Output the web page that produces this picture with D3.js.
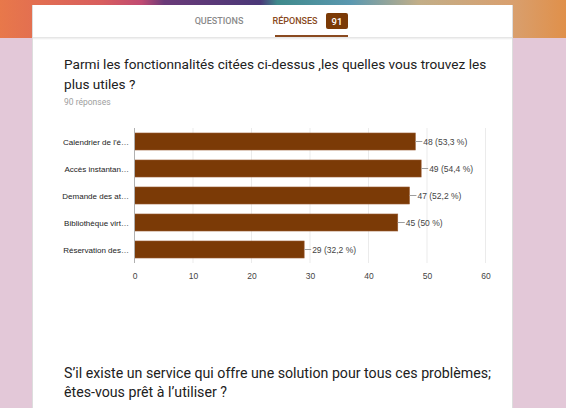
<!DOCTYPE html>
<html><head><meta charset="utf-8">
<script src="https://cdn.jsdelivr.net/npm/d3@7"></script>
<style>
html,body{margin:0;padding:0;overflow:hidden;background:#e3c8d8;}
svg{display:block;font-family:Roboto,"Liberation Sans",Arial,sans-serif;}
</style></head>
<body><svg id="c" width="566" height="408"></svg>
<script>
const categories = ["Calendrier de l'é…", "Accès instantan…", "Demande des at…", "Bibliothèque virt…", "Réservation des…"];
const values = [48, 49, 47, 45, 29];
const percents = ["53,3 %", "54,4 %", "52,2 %", "50 %", "32,2 %"];
const xTicks = [0, 10, 20, 30, 40, 50, 60];
const title1 = ["Parmi les fonctionnalités citées ci-dessus ,les quelles vous trouvez les", "plus utiles ?"];
const subtitle = "90 réponses";
const title2 = ["S’il existe un service qui offre une solution pour tous ces problèmes;", "êtes-vous prêt à l’utiliser ?"];
const tabs = ["QUESTIONS", "RÉPONSES"];
const badge = "91";

const svg = d3.select("#c");
const defs = svg.append("defs");
const g = defs.append("linearGradient").attr("id","top").attr("x1","0").attr("x2","1").attr("y1","0").attr("y2","0");
[[0,"#e8784a"],[0.18,"#d85e5e"],[0.25,"#c04a72"],[0.29,"#6a3a78"],[0.46,"#4a3878"],[0.49,"#3f8a8c"],[0.62,"#5b98b0"],[0.74,"#c2ae88"],[0.9,"#d8a070"],[1,"#e0904a"]]
  .forEach(([o,c])=>g.append("stop").attr("offset",o).attr("stop-color",c));
const sh = defs.append("linearGradient").attr("id","sh").attr("x1","0").attr("x2","0").attr("y1","0").attr("y2","1");
sh.append("stop").attr("offset",0).attr("stop-color","#000").attr("stop-opacity",0.12);
sh.append("stop").attr("offset",1).attr("stop-color","#000").attr("stop-opacity",0);

svg.append("rect").attr("x",0).attr("y",0).attr("width",566).attr("height",408).attr("fill","#e3c8d8");
svg.append("rect").attr("x",0).attr("y",0).attr("width",566).attr("height",38).attr("fill","url(#top)");
// card
svg.append("rect").attr("x",32).attr("y",5).attr("width",481).attr("height",403).attr("fill","#ddd");
svg.append("rect").attr("x",33).attr("y",5).attr("width",479).attr("height",403).attr("fill","#fff");
svg.append("rect").attr("x",33).attr("y",37).attr("width",479).attr("height",3).attr("fill","url(#sh)");

// header tabs
svg.append("text").attr("x",219).attr("y",24).attr("text-anchor","middle").attr("font-size",9).attr("fill","#8a8a8a").attr("font-weight",500).text(tabs[0]);
svg.append("text").attr("x",295).attr("y",24).attr("text-anchor","middle").attr("font-size",9).attr("fill","#8a4a20").attr("font-weight",500).text(tabs[1]);
svg.append("rect").attr("x",326).attr("y",13).attr("width",22).attr("height",16).attr("rx",2).attr("fill","#7b3a06");
svg.append("text").attr("x",337).attr("y",24.5).attr("text-anchor","middle").attr("font-size",9.5).attr("fill","#fff").attr("font-weight",500).text(badge);
svg.append("rect").attr("x",275).attr("y",35).attr("width",73).attr("height",2).attr("fill","#8a4a20");

// titles
svg.selectAll(".t1").data(title1).join("text").attr("x",64).attr("y",(d,i)=>69+i*20)
  .attr("font-size",13.6).attr("fill","#212121").text(d=>d);
svg.append("text").attr("x",64).attr("y",105).attr("font-size",8.5).attr("fill","#9e9e9e").text(subtitle);
svg.selectAll(".t2").data(title2).join("text").attr("x",64).attr("y",(d,i)=>378+i*19)
  .attr("font-size",14.2).attr("fill","#212121").text(d=>d);

// chart
const x = d3.scaleLinear().domain([0,60]).range([134.5,485.5]);
const y = d3.scaleBand().domain(categories).range([128,263]).paddingInner(0.37).paddingOuter(0.185);
const chart = svg.append("g").attr("font-family","'Liberation Sans',Arial,sans-serif");
chart.selectAll(".grid").data(xTicks.slice(1)).join("line")
  .attr("x1",d=>x(d)).attr("x2",d=>x(d)).attr("y1",128).attr("y2",263).attr("stroke","#ebebeb");
chart.selectAll(".bar").data(values).join("rect")
  .attr("x",x(0)).attr("y",(d,i)=>y(categories[i])).attr("width",d=>x(d)-x(0)).attr("height",y.bandwidth())
  .attr("fill","#7b3a06").attr("stroke","#9a5a30").attr("stroke-width",0.6);
chart.append("line").attr("x1",x(0)).attr("x2",x(0)).attr("y1",128).attr("y2",263).attr("stroke","#b0b0b0");
chart.selectAll(".lead").data(values).join("line")
  .attr("x1",d=>x(d)).attr("x2",d=>x(d)+7).attr("y1",(d,i)=>y(categories[i])+y.bandwidth()/2).attr("y2",(d,i)=>y(categories[i])+y.bandwidth()/2)
  .attr("stroke","#9e9e9e");
chart.selectAll(".lab").data(values).join("text")
  .attr("x",d=>x(d)+8).attr("y",(d,i)=>y(categories[i])+y.bandwidth()/2+3)
  .attr("font-size",8.5).attr("fill","#444").text((d,i)=>`${d} (${percents[i]})`);
chart.selectAll(".cat").data(categories).join("text")
  .attr("x",129).attr("y",d=>y(d)+y.bandwidth()/2+3).attr("text-anchor","end")
  .attr("font-size",8).attr("fill","#222").text(d=>d);
const xAxis = d3.axisBottom(x).tickValues(xTicks).tickSize(0).tickPadding(8);
const ax = chart.append("g").attr("transform","translate(0,265)").call(xAxis);
ax.select(".domain").remove();
ax.selectAll("text").attr("font-size",8.5).attr("fill","#444").attr("font-family","'Liberation Sans',Arial,sans-serif");
</script></body></html>
